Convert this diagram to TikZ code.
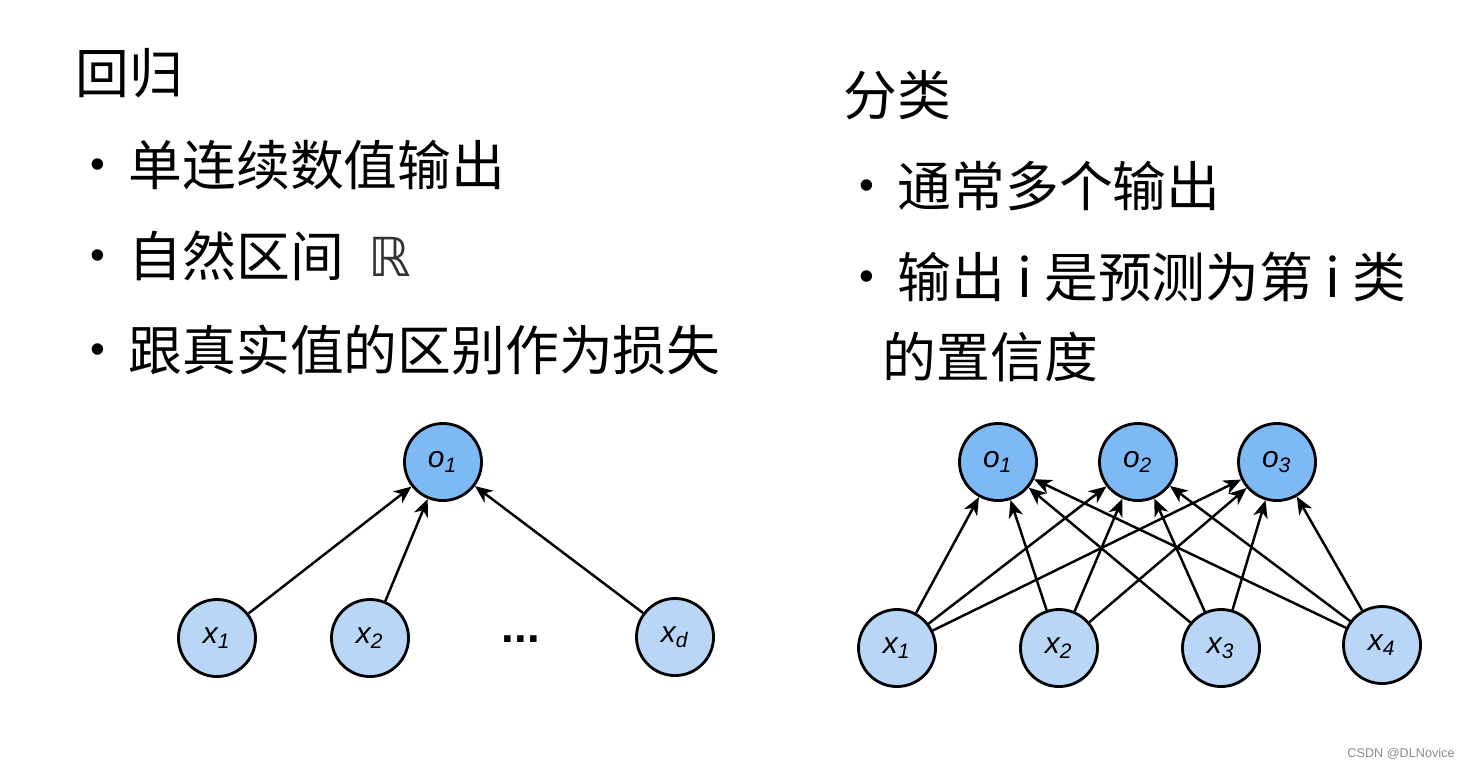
\documentclass[tikz,border=0pt]{standalone}
\usepackage{fontspec}
\setmainfont{Noto Sans CJK SC}
\newfontfamily\dblfont{DejaVu Sans}
\newfontfamily\labfont{Liberation Sans}
\usetikzlibrary{arrows.meta}

\definecolor{outblue}{HTML}{7DB9F5}
\definecolor{inblue}{HTML}{B9D6F7}

\newcommand{\nlab}[2]{\raisebox{-1.2pt}{\labfont\itshape #1\textsubscript{#2}}}

\begin{document}
\begin{tikzpicture}[x=0.01cm, y=-0.01cm,
  outnode/.style={circle, draw=black, line width=0.8pt, fill=outblue,
    minimum size=0.77cm, inner sep=0pt, font=\fontsize{8.5}{10}\selectfont},
  innode/.style={outnode, fill=inblue},
  edge/.style={-{Stealth[length=5pt,width=4.2pt,inset=1.5pt]}, line width=0.7pt},
  head/.style={anchor=west, inner sep=0pt, font=\fontsize{15.3}{18}\selectfont},
  bul/.style={anchor=center, inner sep=0pt, font=\labfont\fontsize{12}{13}\selectfont}]
  \fill[white] (0,0) rectangle (1470,769);
  \useasboundingbox (0,0) rectangle (1470,769);

  % Regression text
  \node[head] (regtitle) at (75,73) {回归};
  \node[bul] (regb1) at (98,169) {•};
  \node[head] (regt1) at (128,165) {单连续数值输出};
  \node[bul] (regb2) at (98,260) {•};
  \node[head] (regt2) at (128,256) {自然区间\hspace{0.45em}{\dblfont\color{black!80}ℝ}};
  \node[bul] (regb3) at (98,354) {•};
  \node[head] (regt3) at (128,350) {跟真实值的区别作为损失};

  % Classification text
  \node[head] (clstitle) at (843,95) {分类};
  \node[bul] (clsb1) at (867,190) {•};
  \node[head] (clst1) at (897,186) {通常多个输出};
  \node[bul] (clsb2) at (867,281) {•};
  \node[head] (clst2) at (897,277) {输出 i 是预测为第 i 类};
  \node[head] (clst3) at (882,357) {的置信度};

  % Regression network
  \node[outnode] (ro) at (443,462) {\nlab{o}{1}};
  \node[innode] (rx1) at (217,638) {\nlab{x}{1}};
  \node[innode] (rx2) at (370,638) {\nlab{x}{2}};
  \node[innode] (rxd) at (675,637) {\nlab{x}{d}};
  \node[inner sep=0pt, font=\labfont\bfseries\fontsize{13}{14}\selectfont] (rdots) at (521,639) {...};
  \foreach \n in {rx1,rx2,rxd}
    \draw[edge] (\n) -- (ro);

  % Classification network
  \node[outnode] (co1) at (998,462) {\nlab{o}{1}};
  \node[outnode] (co2) at (1138,462) {\nlab{o}{2}};
  \node[outnode] (co3) at (1277,462) {\nlab{o}{3}};
  \node[innode] (cx1) at (897,648) {\nlab{x}{1}};
  \node[innode] (cx2) at (1059,648) {\nlab{x}{2}};
  \node[innode] (cx3) at (1221,648) {\nlab{x}{3}};
  \node[innode] (cx4) at (1382,645) {\nlab{x}{4}};
  \foreach \i in {1,...,4}
    \foreach \j in {1,2,3}
      \draw[edge] (cx\i) -- (co\j);

  % Watermark
  \node[inner sep=0pt, text=black!45, font=\labfont\fontsize{3.6}{4}\selectfont] (mark) at (1401,754) {CSDN @DLNovice};
\end{tikzpicture}
\end{document}
